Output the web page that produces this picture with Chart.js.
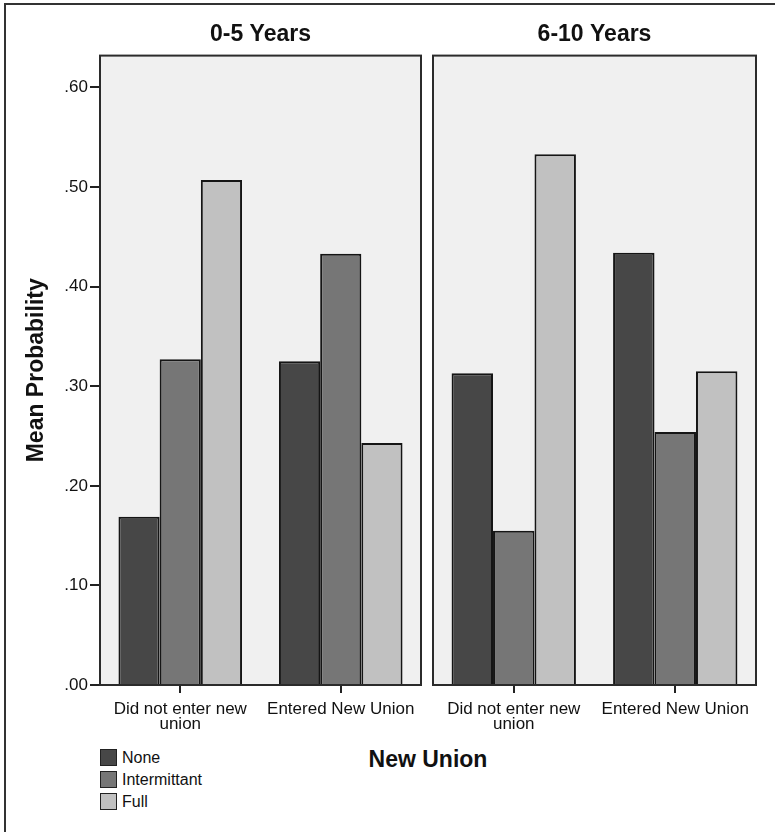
<!DOCTYPE html>
<html>
<head>
<meta charset="utf-8">
<script src="https://cdn.jsdelivr.net/npm/chart.js@4/dist/chart.umd.min.js"></script>
<style>
  body { margin: 0; background: #fff; width: 775px; height: 832px; overflow: hidden; position: relative; font-family: "Liberation Sans", Arial, sans-serif; color: #111; }
  #frame { position: absolute; left: 4px; top: 3px; width: 900px; height: 900px; border-left: 2px solid #333; border-top: 2px solid #333; }
  canvas { position: absolute; top: 0; }
  #left { left: 0; }
  #right { left: 425px; }
  #xtitle { position: absolute; left: 328px; width: 200px; top: 746px; text-align: center; font-weight: bold; font-size: 23px; }
  #legend { position: absolute; left: 100px; top: 749px; font-size: 16px; }
  .item { height: 22px; display: flex; align-items: flex-start; }
  .box { width: 15px; height: 15px; border: 1.5px solid #222; margin-right: 5px; }
  .item span { line-height: 17px; }
</style>
</head>
<body>
<div id="frame"></div>
<canvas id="left" width="425" height="740"></canvas>
<canvas id="right" width="350" height="740"></canvas>
<div id="xtitle">New Union</div>
<div id="legend"></div>
<script>
// values
const categories = [['Did not enter new', 'union'], 'Entered New Union'];
const seriesNames = ['None', 'Intermittant', 'Full'];
const seriesColors = ['#474747', '#767676', '#c1c1c1'];

const early = {
  none: [0.169, 0.325],
  intermittant: [0.327, 0.433],
  full: [0.507, 0.243]
};
const late = {
  none: [0.313, 0.434],
  intermittant: [0.155, 0.254],
  full: [0.533, 0.315]
};
const yTicks = [0, 0.1, 0.2, 0.3, 0.4, 0.5, 0.6];

Chart.defaults.font.family = '"Liberation Sans", Arial, sans-serif';
Chart.defaults.color = '#111';

// grey plot background and dark frame round the chart area
const panelFrame = {
  id: 'panelFrame',
  beforeDraw(chart) {
    const { ctx, chartArea: a } = chart;
    ctx.save();
    ctx.fillStyle = '#f0f0f0';
    ctx.fillRect(a.left, a.top, a.right - a.left, a.bottom - a.top);
    ctx.restore();
  },
  afterDraw(chart) {
    const { ctx, chartArea: a } = chart;
    ctx.save();
    ctx.strokeStyle = '#2b2b2b';
    ctx.lineWidth = 2;
    ctx.strokeRect(a.left, a.top, a.right - a.left, a.bottom - a.top);
    ctx.restore();
  }
};

function makeChart(id, title, values, showY, padding) {
  const data = [values.none, values.intermittant, values.full];
  return new Chart(document.getElementById(id), {
    type: 'bar',
    data: {
      labels: categories,
      datasets: seriesNames.map((name, i) => ({
        label: name,
        data: data[i],
        backgroundColor: seriesColors[i],
        borderColor: '#151515',
        borderWidth: 2,
        categoryPercentage: 0.77,
        barPercentage: 1
      }))
    },
    options: {
      responsive: false,
      animation: false,
      layout: { padding: padding },
      plugins: {
        legend: { display: false },
        tooltip: { enabled: false },
        title: {
          display: true,
          text: title,
          fullSize: false,
          color: '#111',
          font: { size: 23, weight: 'bold', lineHeight: 1.2 },
          padding: { top: 21, bottom: 7 }
        }
      },
      scales: {
        x: {
          offset: true,
          border: { display: false },
          grid: { display: true, drawOnChartArea: false, drawTicks: true, tickLength: 8, offset: false, color: '#222', lineWidth: 2 },
          ticks: { font: { size: 17, lineHeight: 0.93 }, padding: 8, maxRotation: 0, autoSkip: false, color: '#111' },
          afterFit: (s) => { s.height = 55; s.paddingLeft = 0; s.paddingRight = 0; }
        },
        y: {
          display: showY,
          min: 0,
          max: 0.632,
          border: { display: false },
          grid: { drawOnChartArea: false, drawTicks: true, tickLength: 10, color: '#222', lineWidth: 2 },
          ticks: {
            font: { size: 17 },
            padding: 2,
            color: '#111',
            callback: (v) => v.toFixed(2).replace(/^0/, '')
          },
          afterBuildTicks: (s) => { s.ticks = yTicks.map((v) => ({ value: v })); },
          title: {
            display: true,
            text: 'Mean Probability',
            color: '#111',
            font: { size: 23, weight: 'bold', lineHeight: 1.2 },
            padding: { top: 23, bottom: 0 }
          },
          afterFit: (s) => { if (showY) s.width = 100; }
        }
      }
    },
    plugins: [panelFrame]
  });
}

makeChart('left', '0-5 Years', early, true, { left: 0, right: 4, top: 0, bottom: 0 });
makeChart('right', '6-10 Years', late, false, { left: 8, right: 19, top: 0, bottom: 0 });

// legend below the left panel
const legend = document.getElementById('legend');
seriesNames.forEach((name, i) => {
  const row = document.createElement('div');
  row.className = 'item';
  row.innerHTML = '<div class="box" style="background:' + seriesColors[i] + '"></div><span>' + name + '</span>';
  legend.appendChild(row);
});
</script>
</body>
</html>
